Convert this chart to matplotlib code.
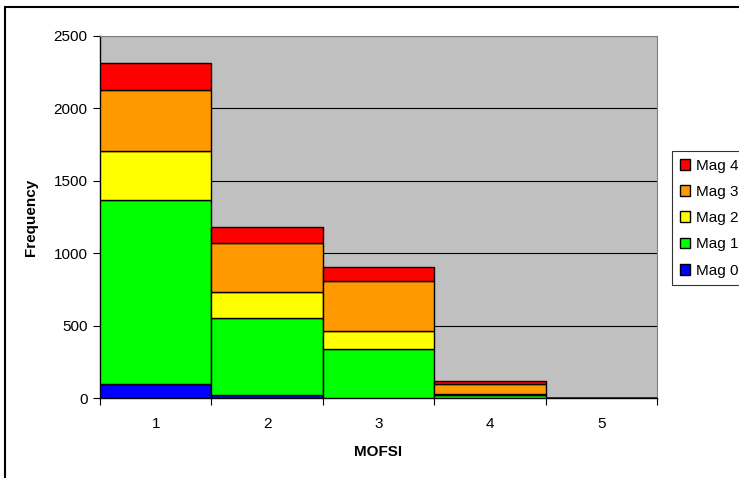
import matplotlib.pyplot as plt
from matplotlib.patches import Rectangle

plt.rcParams['font.family'] = ['Liberation Sans', 'DejaVu Sans']

mofsi = [1, 2, 3, 4, 5]
mag0 = [100, 20, 3, 0, 0]
mag1 = [1270, 530, 335, 18, 0]
mag2 = [335, 183, 122, 8, 0]
mag3 = [420, 338, 347, 72, 0]
mag4 = [190, 108, 101, 19, 0]
series = [("Mag 0", mag0, "#0000FF"),
          ("Mag 1", mag1, "#00FF00"),
          ("Mag 2", mag2, "#FFFF00"),
          ("Mag 3", mag3, "#FF9900"),
          ("Mag 4", mag4, "#FF0000")]

W, H = 739, 478
fig = plt.figure(figsize=(W / 100, H / 100), dpi=100)
ax = fig.add_axes([100 / W, (H - 398) / H, (657 - 100) / W, (398 - 36) / H])
ax.set_facecolor("#C0C0C0")

bottom = [0] * len(mofsi)
handles = []
for name, vals, col in series:
    b = ax.bar(mofsi, vals, width=1.0, bottom=bottom, color=col,
               edgecolor="black", linewidth=1.0, label=name, zorder=3)
    handles.append(b)
    bottom = [x + y for x, y in zip(bottom, vals)]

ax.set_xlim(0.5, 5.5)
ax.set_ylim(0, 2500)
ax.set_yticks(range(0, 2501, 500))
ax.yaxis.grid(True, color="black", linewidth=0.8, zorder=1)
ax.set_xticks([0.5 + i for i in range(6)])
ax.set_xticklabels([])
ax.set_xticks(mofsi, minor=True)
ax.set_xticklabels([str(m) for m in mofsi], minor=True)
ax.tick_params(axis="x", which="minor", length=0, labelsize=11, pad=14)
ax.tick_params(axis="x", which="major", length=5, direction="out", color="black")
ax.tick_params(axis="y", length=5, direction="out", labelsize=11, pad=4)

for s in ["top", "right"]:
    ax.spines[s].set_color("#808080")
    ax.spines[s].set_linewidth(0.8)
for s in ["left", "bottom"]:
    ax.spines[s].set_color("black")
    ax.spines[s].set_linewidth(1.0)

ax.set_xlabel("MOFSI", fontsize=11, fontweight="bold", labelpad=10)
ax.set_ylabel("Frequency", fontsize=11, fontweight="bold", labelpad=11)

leg = fig.legend(handles[::-1], [s[0] for s in series][::-1],
                 loc="upper left", bbox_to_anchor=(672 / W, (H - 151) / H),
                 borderaxespad=0, frameon=True, fancybox=False,
                 edgecolor="black", fontsize=11, handlelength=0.7,
                 handleheight=0.7, handletextpad=0.4, labelspacing=0.8,
                 borderpad=0.5)
leg.get_frame().set_linewidth(0.8)

fig.patches.append(Rectangle((5 / W, -0.1), 1.1, (H - 7) / H + 0.1,
                             transform=fig.transFigure, fill=False,
                             edgecolor="black", linewidth=1.5))

fig.savefig("out.png", dpi=100)
